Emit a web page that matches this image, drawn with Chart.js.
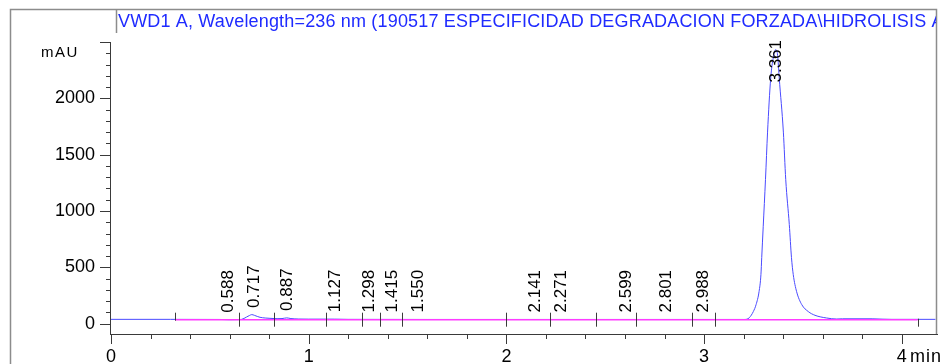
<!DOCTYPE html>
<html>
<head>
<meta charset="utf-8">
<script src="https://cdn.jsdelivr.net/npm/chart.js@4.4.1/dist/chart.umd.min.js"></script>
<style>
  html, body { margin: 0; padding: 0; background: #fff; overflow: hidden; }
  #wrap { width: 940px; height: 364px; position: relative; }
</style>
</head>
<body>
<div id="wrap"><canvas id="c" width="940" height="364"></canvas></div>
<script>
// Chromatogram header and axis units
const titleText = 'VWD1 A, Wavelength=236 nm (190517 ESPECIFICIDAD DEGRADACION FORZADA\\HIDROLISIS A';
const yUnit = 'mAU';
const xUnit = 'min';

// Detector signal (time in min, absorbance in mAU)
const signalTimes = [0, 0.30, 0.55, 0.60, 0.64, 0.661, 0.685, 0.700, 0.712, 0.725,
  0.740, 0.754, 0.780, 0.804, 0.840, 0.865, 0.889, 0.910, 0.950, 1.000,
  1.130, 1.200, 1.600, 2.000, 2.500, 3.000, 3.150, 3.200, 3.215, 3.229,
  3.249, 3.263, 3.278, 3.2875, 3.2915, 3.299, 3.3105, 3.321, 3.337, 3.350,
  3.362, 3.372, 3.380, 3.401, 3.413, 3.431, 3.442, 3.451, 3.468, 3.494,
  3.527, 3.561, 3.620, 3.671, 3.700, 3.850, 3.900, 3.950, 4.170];
const signalValues = [38, 38, 37, 35, 36, 38, 58, 72, 80, 74,
  64, 56, 50, 47, 44, 45, 51, 45, 41, 40,
  40, 38, 37, 37, 37, 37, 37, 37, 39, 53,
  107, 169, 284, 435, 586, 860, 1278, 1700, 2181, 2360,
  2432, 2380, 2181, 1700, 1278, 879, 586, 435, 284, 169,
  107, 74, 50, 41, 43, 43, 40, 38, 38];

// Integration baseline
const baselineTimes = [0.324, 4.080];
const baselineValues = [35, 34];

// Integration events (peak start / end marks)
const eventTimes = [0.324, 0.647, 0.826, 1.090, 1.268, 1.360, 1.470, 2.000,
  2.219, 2.451, 2.654, 2.940, 3.053, 4.080];

// Retention-time annotations
const peakTimes = [0.588, 0.717, 0.887, 1.127, 1.298, 1.415, 1.550, 2.141,
  2.271, 2.599, 2.801, 2.988, 3.361];
const peakLabels = ['0.588', '0.717', '0.887', '1.127', '1.298', '1.415', '1.550',
  '2.141', '2.271', '2.599', '2.801', '2.988', '3.361'];

// Axis ranges, tick steps and labelled ticks
const xRange = [-0.005, 4.173];
const yRange = [-92, 2500];
const xStep = 0.2;
const yStep = 100;
const xMajorStep = 1;
const yMajorStep = 500;
const xLabelValues = [0, 1, 2, 3, 4];
const xTickLabels = ['0', '1', '2', '3', '4'];
const yLabelValues = [0, 500, 1000, 1500, 2000];
const yTickLabels = ['0', '500', '1000', '1500', '2000'];

const FONT = '"Liberation Sans", Arial, sans-serif';
const AXIS_COLOR = '#3a3a3a';

function stepTicks(min, max, step) {
  const out = [];
  for (let i = Math.ceil(min / step - 1e-9); i * step <= max + 1e-9; i++) {
    out.push({ value: +(i * step).toFixed(6) });
  }
  return out;
}
const isMultiple = (v, m) => Math.abs(v / m - Math.round(v / m)) < 1e-6;
function labelFor(v, values, labels) {
  const i = values.findIndex(x => Math.abs(x - v) < 1e-6);
  return i >= 0 ? labels[i] : '';
}

function signalAt(t) {
  for (let i = 1; i < signalTimes.length; i++) {
    if (t <= signalTimes[i]) {
      const t0 = signalTimes[i - 1], t1 = signalTimes[i];
      const f = (t - t0) / (t1 - t0);
      return signalValues[i - 1] + f * (signalValues[i] - signalValues[i - 1]);
    }
  }
  return signalValues[signalValues.length - 1];
}

// Outer frame and header text
const framePlugin = {
  id: 'frame',
  beforeDraw(chart) {
    const ctx = chart.ctx;
    ctx.save();
    ctx.strokeStyle = '#8c8c8c';
    ctx.lineWidth = 1.5;
    ctx.beginPath();
    ctx.moveTo(10.5, 364); ctx.lineTo(10.5, 9.5); ctx.lineTo(936.5, 9.5); ctx.lineTo(936.5, 334);
    ctx.moveTo(116.5, 9.5); ctx.lineTo(116.5, 33);
    ctx.stroke();
    ctx.beginPath();
    ctx.rect(117, 10, 819, 30);
    ctx.clip();
    ctx.fillStyle = '#1f2bff';
    ctx.font = '18px ' + FONT;
    ctx.letterSpacing = '0.17px';
    ctx.textBaseline = 'alphabetic';
    ctx.textAlign = 'left';
    ctx.fillText(titleText, 118, 27);
    ctx.restore();
  }
};

// Axis lines, tick marks, units, integration marks and peak labels
const decorPlugin = {
  id: 'decor',
  afterDatasetsDraw(chart) {
    const ctx = chart.ctx;
    const xs = chart.scales.x, ys = chart.scales.y;
    const a = chart.chartArea;
    ctx.save();
    ctx.strokeStyle = AXIS_COLOR;
    ctx.lineWidth = 1;
    ctx.beginPath();
    // axis lines
    ctx.moveTo(a.left + 0.5, a.top); ctx.lineTo(a.left + 0.5, a.bottom + 0.5);
    ctx.moveTo(a.left, a.bottom + 0.5); ctx.lineTo(938, a.bottom + 0.5);
    // y ticks
    ys.ticks.forEach(tk => {
      const y = Math.round(ys.getPixelForValue(tk.value)) + 0.5;
      const major = isMultiple(tk.value, yMajorStep);
      ctx.moveTo(a.left - (major ? 10 : 4), y); ctx.lineTo(a.left, y);
    });
    // x ticks
    xs.ticks.forEach(tk => {
      const x = Math.round(xs.getPixelForValue(tk.value)) + 0.5;
      const major = isMultiple(tk.value, xMajorStep);
      ctx.moveTo(x, a.bottom); ctx.lineTo(x, a.bottom + (major ? 10 : 5));
    });
    // integration event marks
    eventTimes.forEach((t, i) => {
      const x = Math.round(xs.getPixelForValue(t)) + 0.5;
      const yb = ys.getPixelForValue(baselineValues[0]);
      let up = 7, down = 7;
      if (i === 0) down = 1;
      if (i === eventTimes.length - 1) up = 1;
      ctx.moveTo(x, yb - up); ctx.lineTo(x, yb + down);
    });
    ctx.stroke();

    // unit labels
    ctx.fillStyle = '#000';
    ctx.textAlign = 'left';
    ctx.textBaseline = 'alphabetic';
    ctx.font = '15px ' + FONT;
    ctx.letterSpacing = '1.5px';
    ctx.fillText(yUnit, 41, 57);
    ctx.font = '18px ' + FONT;
    ctx.letterSpacing = '1px';
    ctx.fillText(xUnit, 910, 362);
    ctx.letterSpacing = '0px';

    // retention time labels
    ctx.font = '17px ' + FONT;
    peakTimes.forEach((t, i) => {
      const txt = peakLabels[i];
      const w = ctx.measureText(txt).width;
      const x = xs.getPixelForValue(t);
      const bottom = Math.max(ys.getPixelForValue(signalAt(t)) - 7, a.top - 2 + w);
      ctx.save();
      ctx.translate(x, bottom);
      ctx.rotate(-Math.PI / 2);
      ctx.textAlign = 'left';
      ctx.textBaseline = 'alphabetic';
      ctx.fillText(txt, 0, 6);
      ctx.restore();
    });
    ctx.restore();
  }
};

const toPoints = (xsArr, ysArr) => xsArr.map((x, i) => ({ x, y: ysArr[i] }));

new Chart(document.getElementById('c'), {
  type: 'line',
  data: {
    datasets: [
      {
        label: 'Baseline',
        data: toPoints(baselineTimes, baselineValues),
        borderColor: '#ff3cff',
        borderWidth: 1.6,
        pointRadius: 0,
        fill: false
      },
      {
        label: 'VWD1 A',
        data: toPoints(signalTimes, signalValues),
        borderColor: '#4a4aff',
        borderWidth: 1,
        pointRadius: 0,
        fill: false,
        cubicInterpolationMode: 'monotone'
      }
    ]
  },
  options: {
    responsive: false,
    animation: false,
    devicePixelRatio: 1,
    layout: { padding: { top: 42, right: 4, left: 0, bottom: 0 } },
    plugins: { legend: { display: false }, tooltip: { enabled: false }, title: { display: false } },
    scales: {
      x: {
        type: 'linear',
        min: xRange[0],
        max: xRange[1],
        grid: { display: false, drawTicks: false },
        border: { display: false },
        afterBuildTicks: s => { s.ticks = stepTicks(xRange[0], xRange[1], xStep); },
        ticks: {
          autoSkip: false,
          maxRotation: 0,
          padding: 12,
          color: '#000',
          font: { family: FONT, size: 18 },
          callback: v => labelFor(v, xLabelValues, xTickLabels)
        },
        afterFit: s => { s.height = 30; }
      },
      y: {
        type: 'linear',
        min: yRange[0],
        max: yRange[1],
        grid: { display: false, drawTicks: false },
        border: { display: false },
        afterBuildTicks: s => { s.ticks = stepTicks(yRange[0], yRange[1], yStep); },
        ticks: {
          autoSkip: false,
          padding: 15,
          color: '#000',
          font: { family: FONT, size: 18 },
          callback: v => labelFor(v, yLabelValues, yTickLabels)
        },
        afterFit: s => { s.width = 110; }
      }
    }
  },
  plugins: [framePlugin, decorPlugin]
});
</script>
</body>
</html>
